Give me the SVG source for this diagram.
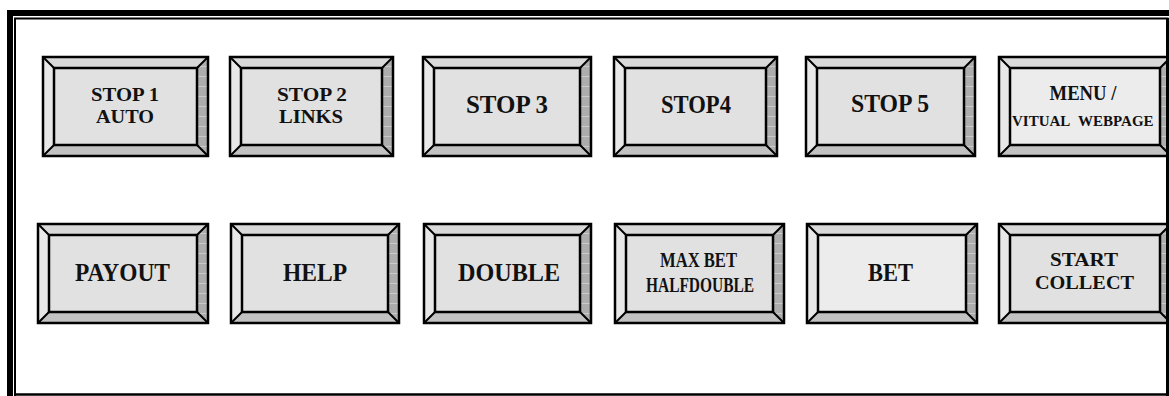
<svg xmlns="http://www.w3.org/2000/svg" width="1169" height="396" viewBox="0 0 1169 396">
<style>
.bt{fill:#d9d9d9}
.bl{fill:#e8e8e8}
.bb{fill:#c2c2c2}
.br{fill:url(#grid)}
.face{fill:#e1e1e1}
.facel{fill:#ececec}
.ol{fill:none;stroke:#000;stroke-width:2.5}
.dg{stroke:#000;stroke-width:2}
text{font-family:"Liberation Serif","Times New Roman",serif;font-weight:bold;fill:#111;text-anchor:middle}
.f20{font-size:19.5px}
.f24{font-size:26px}
.f19{font-size:20px}
.f16{font-size:15px}
</style>
<defs>
<pattern id="grid" patternUnits="userSpaceOnUse" width="6" height="10">
<rect width="6" height="10" fill="#adadad"/>
<rect y="9" width="6" height="1" fill="#cbcbcb"/>
</pattern>
</defs>
<rect width="1169" height="396" fill="#fff"/>

<g id="btn-stop1" transform="translate(43,57)">
<polygon class="bt" points="0,0 165,0 154,11 11,11"/><polygon class="bl" points="0,0 11,11 11,88 0,99"/><polygon class="bb" points="0,99 11,88 154,88 165,99"/><polygon class="br" points="165,0 165,99 154,88 154,11"/>
<rect class="face" x="11" y="11" width="143" height="77"/>
<path class="dg" d="M0,0L11,11M165,0L154,11M0,99L11,88M165,99L154,88"/>
<rect class="ol" x="0" y="0" width="165" height="99"/><rect class="ol" x="11" y="11" width="143" height="77"/>
<text class="f20" x="82" y="44" textLength="68" lengthAdjust="spacingAndGlyphs">STOP 1</text>
<text class="f20" x="82" y="66" textLength="58" lengthAdjust="spacingAndGlyphs">AUTO</text>
</g>

<g id="btn-stop2" transform="translate(230,57)">
<polygon class="bt" points="0,0 163,0 152,11 11,11"/><polygon class="bl" points="0,0 11,11 11,88 0,99"/><polygon class="bb" points="0,99 11,88 152,88 163,99"/><polygon class="br" points="163,0 163,99 152,88 152,11"/>
<rect class="face" x="11" y="11" width="141" height="77"/>
<path class="dg" d="M0,0L11,11M163,0L152,11M0,99L11,88M163,99L152,88"/>
<rect class="ol" x="0" y="0" width="163" height="99"/><rect class="ol" x="11" y="11" width="141" height="77"/>
<text class="f20" x="82" y="44" textLength="70" lengthAdjust="spacingAndGlyphs">STOP 2</text>
<text class="f20" x="81" y="66" textLength="64" lengthAdjust="spacingAndGlyphs">LINKS</text>
</g>

<g id="btn-stop3" transform="translate(423,57)">
<polygon class="bt" points="0,0 168,0 157,11 11,11"/><polygon class="bl" points="0,0 11,11 11,88 0,99"/><polygon class="bb" points="0,99 11,88 157,88 168,99"/><polygon class="br" points="168,0 168,99 157,88 157,11"/>
<rect class="face" x="11" y="11" width="146" height="77"/>
<path class="dg" d="M0,0L11,11M168,0L157,11M0,99L11,88M168,99L157,88"/>
<rect class="ol" x="0" y="0" width="168" height="99"/><rect class="ol" x="11" y="11" width="146" height="77"/>
<text class="f24" x="84" y="56" textLength="82" lengthAdjust="spacingAndGlyphs">STOP 3</text>
</g>

<g id="btn-stop4" transform="translate(614,57)">
<polygon class="bt" points="0,0 163,0 152,11 11,11"/><polygon class="bl" points="0,0 11,11 11,88 0,99"/><polygon class="bb" points="0,99 11,88 152,88 163,99"/><polygon class="br" points="163,0 163,99 152,88 152,11"/>
<rect class="face" x="11" y="11" width="141" height="77"/>
<path class="dg" d="M0,0L11,11M163,0L152,11M0,99L11,88M163,99L152,88"/>
<rect class="ol" x="0" y="0" width="163" height="99"/><rect class="ol" x="11" y="11" width="141" height="77"/>
<text class="f24" x="82" y="56" textLength="70" lengthAdjust="spacingAndGlyphs">STOP4</text>
</g>

<g id="btn-stop5" transform="translate(806,57)">
<polygon class="bt" points="0,0 169,0 158,11 11,11"/><polygon class="bl" points="0,0 11,11 11,88 0,99"/><polygon class="bb" points="0,99 11,88 158,88 169,99"/><polygon class="br" points="169,0 169,99 158,88 158,11"/>
<rect class="face" x="11" y="11" width="147" height="77"/>
<path class="dg" d="M0,0L11,11M169,0L158,11M0,99L11,88M169,99L158,88"/>
<rect class="ol" x="0" y="0" width="169" height="99"/><rect class="ol" x="11" y="11" width="147" height="77"/>
<text class="f24" x="84" y="55" textLength="78" lengthAdjust="spacingAndGlyphs">STOP 5</text>
</g>

<g id="btn-menu" transform="translate(999,57)">
<polygon class="bt" points="0,0 172,0 161,11 11,11"/><polygon class="bl" points="0,0 11,11 11,88 0,99"/><polygon class="bb" points="0,99 11,88 161,88 172,99"/><polygon class="br" points="172,0 172,99 161,88 161,11"/>
<rect class="facel" x="11" y="11" width="150" height="77"/>
<path class="dg" d="M0,0L11,11M172,0L161,11M0,99L11,88M172,99L161,88"/>
<rect class="ol" x="0" y="0" width="172" height="99"/><rect class="ol" x="11" y="11" width="150" height="77"/>
<text class="f19" x="84" y="43" textLength="67" lengthAdjust="spacingAndGlyphs">MENU /</text>
<text class="f16" x="13" y="69" style="text-anchor:start" word-spacing="5">VITUAL WEBPAGE</text>
</g>

<g id="btn-payout" transform="translate(38,224)">
<polygon class="bt" points="0,0 170,0 159,11 11,11"/><polygon class="bl" points="0,0 11,11 11,88 0,99"/><polygon class="bb" points="0,99 11,88 159,88 170,99"/><polygon class="br" points="170,0 170,99 159,88 159,11"/>
<rect class="face" x="11" y="11" width="148" height="77"/>
<path class="dg" d="M0,0L11,11M170,0L159,11M0,99L11,88M170,99L159,88"/>
<rect class="ol" x="0" y="0" width="170" height="99"/><rect class="ol" x="11" y="11" width="148" height="77"/>
<text class="f24" x="84.5" y="57" textLength="95" lengthAdjust="spacingAndGlyphs">PAYOUT</text>
</g>

<g id="btn-help" transform="translate(231,224)">
<polygon class="bt" points="0,0 168,0 157,11 11,11"/><polygon class="bl" points="0,0 11,11 11,88 0,99"/><polygon class="bb" points="0,99 11,88 157,88 168,99"/><polygon class="br" points="168,0 168,99 157,88 157,11"/>
<rect class="face" x="11" y="11" width="146" height="77"/>
<path class="dg" d="M0,0L11,11M168,0L157,11M0,99L11,88M168,99L157,88"/>
<rect class="ol" x="0" y="0" width="168" height="99"/><rect class="ol" x="11" y="11" width="146" height="77"/>
<text class="f24" x="84" y="57" textLength="64" lengthAdjust="spacingAndGlyphs">HELP</text>
</g>

<g id="btn-double" transform="translate(424,224)">
<polygon class="bt" points="0,0 167,0 156,11 11,11"/><polygon class="bl" points="0,0 11,11 11,88 0,99"/><polygon class="bb" points="0,99 11,88 156,88 167,99"/><polygon class="br" points="167,0 167,99 156,88 156,11"/>
<rect class="face" x="11" y="11" width="145" height="77"/>
<path class="dg" d="M0,0L11,11M167,0L156,11M0,99L11,88M167,99L156,88"/>
<rect class="ol" x="0" y="0" width="167" height="99"/><rect class="ol" x="11" y="11" width="145" height="77"/>
<text class="f24" x="85" y="57" textLength="102" lengthAdjust="spacingAndGlyphs">DOUBLE</text>
</g>

<g id="btn-maxbet" transform="translate(615,224)">
<polygon class="bt" points="0,0 169,0 158,11 11,11"/><polygon class="bl" points="0,0 11,11 11,88 0,99"/><polygon class="bb" points="0,99 11,88 158,88 169,99"/><polygon class="br" points="169,0 169,99 158,88 158,11"/>
<rect class="face" x="11" y="11" width="147" height="77"/>
<path class="dg" d="M0,0L11,11M169,0L158,11M0,99L11,88M169,99L158,88"/>
<rect class="ol" x="0" y="0" width="169" height="99"/><rect class="ol" x="11" y="11" width="147" height="77"/>
<text class="f19" x="83.5" y="43" textLength="77" lengthAdjust="spacingAndGlyphs">MAX BET</text>
<text class="f19" x="85" y="68" textLength="108" lengthAdjust="spacingAndGlyphs">HALFDOUBLE</text>
</g>

<g id="btn-bet" transform="translate(807,224)">
<polygon class="bt" points="0,0 170,0 159,11 11,11"/><polygon class="bl" points="0,0 11,11 11,88 0,99"/><polygon class="bb" points="0,99 11,88 159,88 170,99"/><polygon class="br" points="170,0 170,99 159,88 159,11"/>
<rect class="facel" x="11" y="11" width="148" height="77"/>
<path class="dg" d="M0,0L11,11M170,0L159,11M0,99L11,88M170,99L159,88"/>
<rect class="ol" x="0" y="0" width="170" height="99"/><rect class="ol" x="11" y="11" width="148" height="77"/>
<text class="f24" x="83.5" y="57" textLength="45" lengthAdjust="spacingAndGlyphs">BET</text>
</g>

<g id="btn-start" transform="translate(999,224)">
<polygon class="bt" points="0,0 172,0 161,11 11,11"/><polygon class="bl" points="0,0 11,11 11,88 0,99"/><polygon class="bb" points="0,99 11,88 161,88 172,99"/><polygon class="br" points="172,0 172,99 161,88 161,11"/>
<rect class="face" x="11" y="11" width="150" height="77"/>
<path class="dg" d="M0,0L11,11M172,0L161,11M0,99L11,88M172,99L161,88"/>
<rect class="ol" x="0" y="0" width="172" height="99"/><rect class="ol" x="11" y="11" width="150" height="77"/>
<text class="f20" x="85" y="42" textLength="68" lengthAdjust="spacingAndGlyphs">START</text>
<text class="f20" x="85.5" y="65" textLength="99" lengthAdjust="spacingAndGlyphs">COLLECT</text>
</g>

<g id="frame">
<rect x="7" y="10" width="1162" height="6" fill="#000"/>
<rect x="7" y="10" width="6" height="386" fill="#000"/>
<path d="M15,396V18.5H1167.5V396" fill="none" stroke="#000" stroke-width="2"/>
<rect x="1166" y="18" width="3" height="378" fill="#000"/>
<line x1="14" y1="394.5" x2="1168" y2="394.5" stroke="#000" stroke-width="2.5"/>
</g>
</svg>
